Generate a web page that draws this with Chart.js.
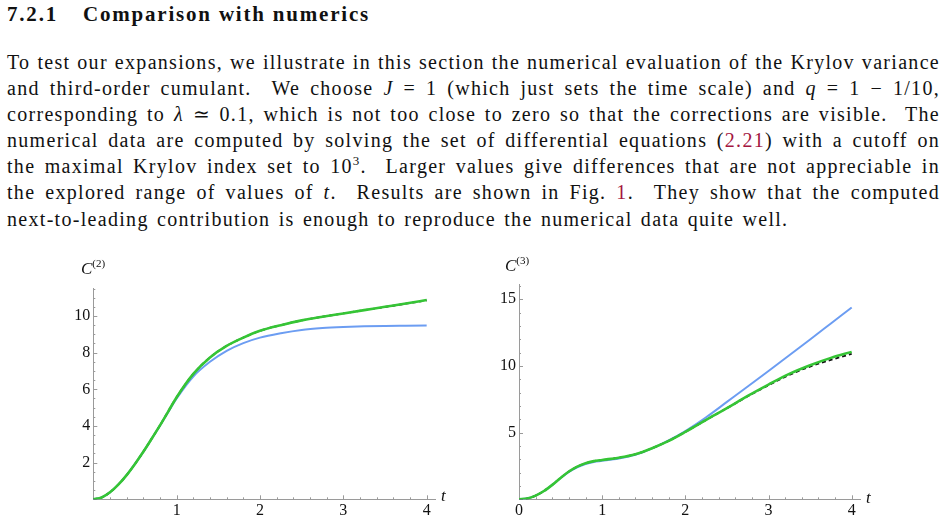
<!DOCTYPE html>
<html>
<head>
<meta charset="utf-8">
<script src="https://cdn.jsdelivr.net/npm/chart.js@4.4.1/dist/chart.umd.min.js"></script>
<style>
  body { margin: 0; background: #fff; width: 947px; height: 521px; overflow: hidden; position: relative;
         font-family: 'Liberation Serif', 'Times New Roman', serif; color: #111; }
  #heading { position: absolute; left: 7px; top: 2px; font-size: 21px; font-weight: bold; letter-spacing: 1.8px; white-space: nowrap; }
  #heading .title { position: absolute; left: 76px; top: 0; }
  #body { position: absolute; left: 7px; top: 49px; width: 933px; font-size: 20px; line-height: 26.1px; letter-spacing: 1.3px; }
  #body div { text-align: justify; text-align-last: justify; white-space: nowrap; }
  #body div.last { text-align-last: left; word-spacing: 2px; }
  .ref { color: #a3163f; }
  sup { font-size: 13px; line-height: 0; vertical-align: 8px; }
  canvas { position: absolute; }
  .lab { position: absolute; font-size: 17px; font-style: italic; white-space: nowrap; }
  .lab sup { font-style: normal; font-size: 11px; vertical-align: 7px; }
</style>
</head>
<body>
<div id="heading">7.2.1<span class="title">Comparison with numerics</span></div>
<div id="body">
  <div>To test our expansions, we illustrate in this section the numerical evaluation of the Krylov variance</div>
  <div>and third-order cumulant. &nbsp;We choose <i>J</i> = 1 (which just sets the time scale) and <i>q</i> = 1 − 1/10,</div>
  <div>corresponding to <i>λ</i> ≃ 0.1, which is not too close to zero so that the corrections are visible. &nbsp;The</div>
  <div>numerical data are computed by solving the set of differential equations (<span class="ref">2.21</span>) with a cutoff on</div>
  <div>the maximal Krylov index set to 10<sup>3</sup>. &nbsp;Larger values give differences that are not appreciable in</div>
  <div>the explored range of values of <i>t</i>. &nbsp;Results are shown in Fig. <span class="ref">1</span>. &nbsp;They show that the computed</div>
  <div class="last">next-to-leading contribution is enough to reproduce the numerical data quite well.</div>
</div>

<canvas id="chartLeft" width="420" height="271" style="left:33px; top:250px;"></canvas>
<canvas id="chartRight" width="420" height="271" style="left:459px; top:250px;"></canvas>

<div class="lab" style="left:81px; top:259px;">C<sup>(2)</sup></div>
<div class="lab" style="left:505px; top:256px;">C<sup>(3)</sup></div>
<div class="lab" style="left:441px; top:486px;">t</div>
<div class="lab" style="left:866px; top:488px;">t</div>

<script>
'use strict';

// time samples shared by every curve
const tValues = [0, 0.1, 0.2, 0.3, 0.4, 0.5, 0.6, 0.7, 0.8, 0.9, 1.0, 1.2, 1.4, 1.6, 1.8, 2.0, 2.25, 2.5, 2.75, 3.0, 3.25, 3.5, 3.75, 4.0];

// C(2): numerics (black dashed), next-to-leading (green), leading (blue)
const c2Numeric = [0, 0.1, 0.38, 0.8, 1.32, 1.93, 2.59, 3.3, 4.03, 4.8, 5.57, 6.84, 7.74, 8.37, 8.82, 9.19, 9.5, 9.76, 9.96, 10.14, 10.32, 10.49, 10.67, 10.85];
const c2NextLeading = [0, 0.1, 0.38, 0.8, 1.32, 1.93, 2.59, 3.3, 4.03, 4.8, 5.57, 6.84, 7.74, 8.37, 8.82, 9.19, 9.5, 9.76, 9.96, 10.14, 10.32, 10.5, 10.68, 10.87];
const c2Leading = [0, 0.1, 0.38, 0.8, 1.32, 1.93, 2.59, 3.3, 4.02, 4.77, 5.5, 6.7, 7.5, 8.1, 8.52, 8.82, 9.06, 9.24, 9.34, 9.4, 9.44, 9.46, 9.47, 9.48];

// C(3)
const c3Numeric = [0, 0.06, 0.28, 0.62, 1.08, 1.6, 2.08, 2.45, 2.7, 2.86, 2.95, 3.12, 3.38, 3.83, 4.38, 5.05, 5.95, 6.83, 7.72, 8.55, 9.32, 9.95, 10.45, 10.9];
const c3NextLeading = [0, 0.06, 0.28, 0.62, 1.08, 1.6, 2.08, 2.45, 2.7, 2.86, 2.95, 3.12, 3.38, 3.83, 4.38, 5.05, 5.95, 6.83, 7.75, 8.6, 9.4, 10.05, 10.6, 11.05];
const c3Leading = [0, 0.06, 0.28, 0.62, 1.08, 1.6, 2.06, 2.4, 2.65, 2.8, 2.88, 3.06, 3.34, 3.82, 4.42, 5.12, 6.15, 7.3, 8.45, 9.62, 10.8, 11.98, 13.18, 14.38];

// tick labels
const leftXTicks = [1, 2, 3, 4];
const leftYTicks = [2, 4, 6, 8, 10];
const rightXTicks = [0, 1, 2, 3, 4];
const rightYTicks = [5, 10, 15];

const blue = '#6c9df2';
const green = '#35c535';
const axisGray = '#9a9a9a';

// minor tick positions (just positions along the axis)
function minorTicks(step, max) {
  let out = [];
  for (let i = 1; i * step <= max + 1e-9; ++i) out.push(+(i * step).toFixed(3));
  return out;
}

// Mathematica-style ticks pointing into the plot
const innerTicks = {
  id: 'innerTicks',
  afterDraw(chart, args, opts) {
    const ctx = chart.ctx;
    const xs = chart.scales.x, ys = chart.scales.y;
    const area = chart.chartArea;
    ctx.save();
    ctx.strokeStyle = axisGray;
    ctx.lineWidth = 1;
    ctx.beginPath();
    opts.xMinor.forEach(function(v) {
      let len = opts.xMajor.includes(v) ? 4 : 2;
      let px = Math.round(xs.getPixelForValue(v)) + 0.5;
      ctx.moveTo(px, area.bottom);
      ctx.lineTo(px, area.bottom - len);
    });
    opts.yMinor.forEach(function(v) {
      let len = opts.yMajor.includes(v) ? 4 : 2;
      let py = Math.round(ys.getPixelForValue(v)) + 0.5;
      ctx.moveTo(area.left, py);
      ctx.lineTo(area.left + len, py);
    });
    ctx.stroke();
    ctx.restore();
  }
};

function points(ys) {
  return tValues.map(function(t, i) { return { x: t, y: ys[i] }; });
}

function makeChart(id, series, xTicks, yTicks, yMax, yMinorStep, pad) {
  const ctx = document.getElementById(id).getContext('2d');
  const tickFont = { family: "'Liberation Serif', serif", size: 16 };
  return new Chart(ctx, {
    type: 'line',
    data: {
      datasets: [{
        data: points(series[1]),
        borderColor: green,
        borderWidth: 2.6
      }, {
        data: points(series[0]),
        borderColor: '#111',
        borderWidth: 1.8,
        borderDash: [4, 3]
      }, {
        data: points(series[2]),
        borderColor: blue,
        borderWidth: 2
      }]
    },
    options: {
      responsive: false,
      animation: false,
      devicePixelRatio: 1,
      layout: { padding: { left: 0, right: pad.right, top: pad.top, bottom: 0 } },
      elements: { point: { radius: 0 }, line: { cubicInterpolationMode: 'monotone', fill: false } },
      plugins: {
        legend: { display: false },
        tooltip: { enabled: false },
        innerTicks: {
          xMajor: [1, 2, 3, 4], xMinor: minorTicks(0.2, 4),
          yMajor: yTicks, yMinor: minorTicks(yMinorStep, yMax)
        }
      },
      scales: {
        x: {
          type: 'linear', min: 0, max: 4.1,
          grid: { display: false, drawTicks: false },
          border: { color: axisGray, width: 1 },
          afterBuildTicks: function(scale) { scale.ticks = xTicks.map(function(v) { return { value: v }; }); },
          afterFit: function(scale) { scale.height = 21.7; },
          ticks: { autoSkip: false, maxRotation: 0, padding: 2, color: '#111', font: tickFont }
        },
        y: {
          type: 'linear', min: 0, max: yMax,
          grid: { display: false, drawTicks: false },
          border: { color: axisGray, width: 1 },
          afterBuildTicks: function(scale) { scale.ticks = yTicks.map(function(v) { return { value: v }; }); },
          afterFit: function(scale) { scale.width = pad.yWidth; },
          ticks: { autoSkip: false, padding: 3, color: '#111', font: tickFont }
        }
      }
    },
    plugins: [innerTicks]
  });
}

makeChart('chartLeft', [c2Numeric, c2NextLeading, c2Leading], leftXTicks, leftYTicks, 11.5, 0.5,
  { right: 18, top: 38.5, yWidth: 60.3 });
makeChart('chartRight', [c3Numeric, c3NextLeading, c3Leading], rightXTicks, rightYTicks, 16.1, 1,
  { right: 19, top: 34.5, yWidth: 60 });
</script>
</body>
</html>
